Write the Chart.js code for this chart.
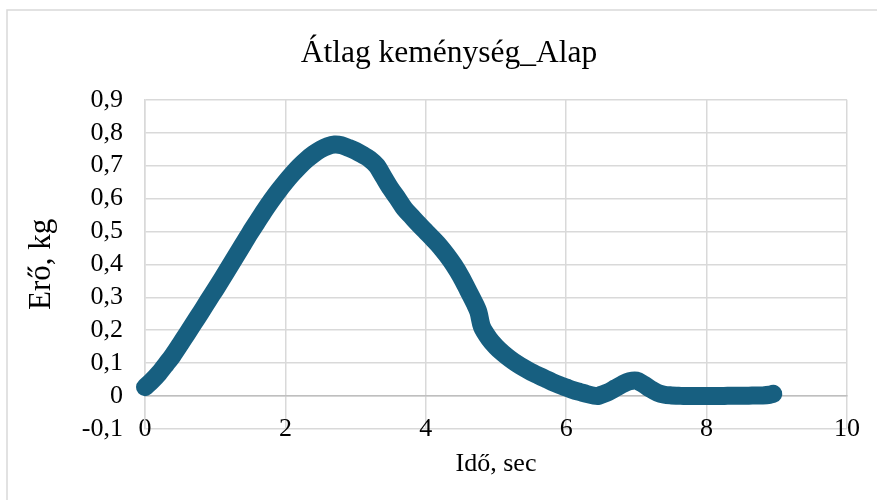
<!DOCTYPE html>
<html>
<head>
<meta charset="utf-8">
<script src="https://cdn.jsdelivr.net/npm/chart.js@4.4.1/dist/chart.umd.min.js"></script>
<style>
  html, body { margin: 0; padding: 0; background: #fff; }
  #wrap { width: 877px; height: 500px; }
</style>
</head>
<body>
<div id="wrap"><canvas id="myChart" width="877" height="500"></canvas></div>
<script>
// Átlag keménység - time (sec) vs force (kg)
const timeSec = [0, 0.1, 0.2, 0.3, 0.4, 0.5, 0.6, 0.7, 0.8, 0.9,
    1.0, 1.1, 1.2, 1.3, 1.4, 1.5, 1.6, 1.7, 1.8, 1.9,
    2.0, 2.1, 2.2, 2.3, 2.4, 2.5, 2.6, 2.7, 2.8, 2.9,
    3.0, 3.1, 3.2, 3.3, 3.4, 3.5, 3.6, 3.7, 3.8, 3.9,
    4.0, 4.1, 4.2, 4.3, 4.4, 4.5, 4.6, 4.7, 4.75, 4.8, 4.9,
    5.0, 5.1, 5.2, 5.3, 5.4, 5.5, 5.6, 5.7, 5.8, 5.9,
    6.0, 6.1, 6.2, 6.3, 6.4, 6.45, 6.5, 6.6, 6.7, 6.8, 6.9,
    7.0, 7.1, 7.2, 7.3, 7.4, 7.5, 7.6, 7.7, 7.8, 7.9,
    8.0, 8.1, 8.2, 8.3, 8.4, 8.5, 8.6, 8.7, 8.8, 8.9, 8.95];
const forceKg = [0.027, 0.047, 0.07, 0.097, 0.125, 0.157, 0.19, 0.223, 0.256, 0.29,
    0.323, 0.357, 0.392, 0.427, 0.462, 0.497, 0.53, 0.563, 0.594, 0.623,
    0.65, 0.675, 0.698, 0.718, 0.735, 0.749, 0.759, 0.764, 0.762, 0.754,
    0.745, 0.733, 0.72, 0.70, 0.665, 0.63, 0.6, 0.568, 0.545, 0.522,
    0.5, 0.478, 0.455, 0.428, 0.398, 0.363, 0.322, 0.28, 0.255, 0.21, 0.175,
    0.15, 0.13, 0.113, 0.098, 0.085, 0.073, 0.063, 0.053, 0.043, 0.034,
    0.026, 0.018, 0.012, 0.006, 0.001, 0.0, 0.004, 0.012, 0.024, 0.036, 0.045,
    0.047, 0.036, 0.022, 0.01, 0.004, 0.002, 0.001, 0.0, 0.0, 0.0,
    0.0, 0.0, 0.0, 0.001, 0.001, 0.001, 0.001, 0.002, 0.002, 0.004, 0.007];

const xTickValues = [0, 2, 4, 6, 8, 10];
const xTickLabels = ['0', '2', '4', '6', '8', '10'];
const yTickValues = [-0.1, 0, 0.1, 0.2, 0.3, 0.4, 0.5, 0.6, 0.7, 0.8, 0.9];
const yTickLabels = ['-0,1', '0', '0,1', '0,2', '0,3', '0,4', '0,5', '0,6', '0,7', '0,8', '0,9'];

const serif = '"Liberation Serif", "Times New Roman", serif';

// light grey frame round the whole chart (cut off at right/bottom like the original)
const framePlugin = {
    id: 'frame',
    beforeDraw(chart) {
        const c = chart.ctx;
        c.save();
        c.strokeStyle = '#d9d9d9';
        c.lineWidth = 1.5;
        c.strokeRect(7, 10, chart.width + 20, chart.height + 20);
        c.restore();
    }
};

const points = timeSec.map((t, i) => ({ x: t, y: forceKg[i] }));

const ctx = document.getElementById('myChart').getContext('2d');
const myChart = new Chart(ctx, {
    type: 'scatter',
    data: {
        datasets: [{
            label: 'Átlag keménység_Alap',
            data: points,
            showLine: true,
            borderColor: '#175f80',
            backgroundColor: '#175f80',
            borderWidth: 18,
            borderCapStyle: 'round',
            borderJoinStyle: 'round',
            pointRadius: 0,
            tension: 0.3,
            clip: false
        }]
    },
    options: {
        responsive: false,
        animation: false,
        events: [],
        // left padding only shifts the chart title to where it sits in the original
        layout: { padding: { left: 51, right: 30, top: 0, bottom: 71 } },
        plugins: {
            legend: { display: false },
            tooltip: { enabled: false },
            title: {
                display: true,
                text: 'Átlag keménység_Alap',
                color: '#000',
                font: { family: serif, size: 31.5, weight: 'normal' },
                padding: { top: 35, bottom: 27 }
            }
        },
        scales: {
            x: {
                type: 'linear',
                position: { y: 0 },
                min: 0,
                max: 10,
                afterBuildTicks: (s) => { s.ticks = xTickValues.map(v => ({ value: v })); },
                ticks: {
                    color: '#000',
                    font: { family: serif, size: 26 },
                    padding: 17,
                    autoSkip: false,
                    maxRotation: 0,
                    callback: (v, i) => xTickLabels[i]
                },
                grid: { color: '#d9d9d9', lineWidth: 1.5, drawTicks: false },
                border: { display: true, color: '#bfbfbf', width: 1.5 },
                title: {
                    display: true,
                    text: 'Idő, sec',
                    color: '#000',
                    font: { family: serif, size: 26 },
                    padding: { top: -13, bottom: 0 }
                }
            },
            y: {
                type: 'linear',
                min: -0.1,
                max: 0.9,
                afterBuildTicks: (s) => { s.ticks = yTickValues.map(v => ({ value: v })); },
                afterFit: (s) => { s.width = 94; },
                ticks: {
                    color: '#000',
                    font: { family: serif, size: 26 },
                    padding: 22,
                    autoSkip: false,
                    callback: (v, i) => yTickLabels[i]
                },
                grid: { color: '#d9d9d9', lineWidth: 1.5, drawTicks: false },
                border: { display: true, color: '#d9d9d9', width: 1.5 },
                title: {
                    display: true,
                    text: 'Erő, kg',
                    color: '#000',
                    font: { family: serif, size: 31 },
                    padding: { top: -28, bottom: 0 }
                }
            }
        }
    },
    plugins: [framePlugin]
});
</script>
</body>
</html>
